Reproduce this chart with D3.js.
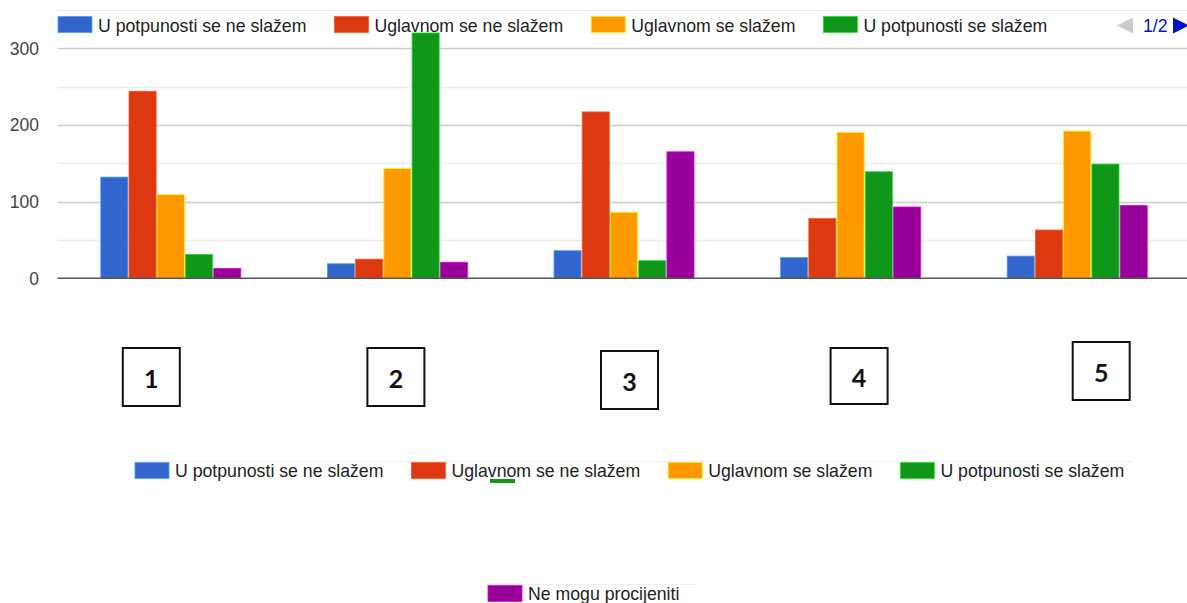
<!DOCTYPE html>
<html>
<head>
<meta charset="utf-8">
<script src="https://cdn.jsdelivr.net/npm/d3@7"></script>
<style>
  html, body { margin: 0; padding: 0; background: #fff; }
  svg { display: block; font-family: "Liberation Sans", Arial, sans-serif; }
</style>
</head>
<body>
<svg id="chart" width="1187" height="603"></svg>
<script>
// Survey answers per statement (statement numbers 1–5)
const categories = ["1", "2", "3", "4", "5"];
const seriesNames = [
  "U potpunosti se ne slažem",
  "Uglavnom se ne slažem",
  "Uglavnom se slažem",
  "U potpunosti se slažem",
  "Ne mogu procijeniti"
];
const colors = ["#3366cc", "#dc3912", "#ff9900", "#109618", "#990099"];

const potpunoNe = [132, 19, 36, 27, 29];
const uglavnomNe = [244, 25, 217, 78, 63];
const uglavnomDa = [109, 143, 86, 190, 192];
const potpunoDa = [31, 320, 23, 139, 149];
const neMogu = [13, 21, 165, 93, 95];
const seriesValues = [potpunoNe, uglavnomNe, uglavnomDa, potpunoDa, neMogu];

const majorTicks = [0, 100, 200, 300];
const minorTicks = [50, 150, 250];

const svg = d3.select("#chart");
const W = 1187;
const FONT = 17.7;

// Scales
const plotLeft = 57.5, plotRight = 1190.5;
const y = d3.scaleLinear().domain([0, 300]).range([278.3, 48.3]);
const x0 = d3.scaleBand().domain(categories).range([plotLeft, plotRight])
  .paddingInner(0.382).paddingOuter(0.191);
const x1 = d3.scaleBand().domain(d3.range(seriesNames.length))
  .range([0, x0.bandwidth()]).paddingInner(0.04);

// Top faint frame line above the legend
svg.append("line").attr("x1", plotLeft).attr("x2", W).attr("y1", 10.5).attr("y2", 10.5)
  .attr("stroke", "#ececec").attr("stroke-width", 1);

// Gridlines
svg.append("g").selectAll("line").data(minorTicks).join("line")
  .attr("x1", plotLeft).attr("x2", W)
  .attr("y1", d => Math.round(y(d)) + 0.5).attr("y2", d => Math.round(y(d)) + 0.5)
  .attr("stroke", "#ececec").attr("stroke-width", 1.5);
svg.append("g").selectAll("line").data(majorTicks.filter(d => d > 0)).join("line")
  .attr("x1", plotLeft).attr("x2", W)
  .attr("y1", d => Math.round(y(d)) + 0.5).attr("y2", d => Math.round(y(d)) + 0.5)
  .attr("stroke", "#cccccc").attr("stroke-width", 1.5);

// Y axis labels
const yAxis = d3.axisLeft(y).tickValues(majorTicks).tickSize(0).tickPadding(0);
const ya = svg.append("g").attr("transform", "translate(39,0)").call(yAxis);
ya.select(".domain").remove();
ya.selectAll("text").attr("fill", "#444").attr("font-size", 17.5)
  .attr("font-family", "Liberation Sans, Arial, sans-serif").attr("dy", "0.34em");

// Bars
const groups = svg.append("g").selectAll("g").data(categories).join("g")
  .attr("transform", d => `translate(${x0(d)},0)`);
groups.selectAll("rect")
  .data((c, i) => seriesValues.map((vals, s) => ({ s, v: vals[i] })))
  .join("rect")
  .attr("x", d => x1(d.s))
  .attr("width", x1.bandwidth())
  .attr("y", d => y(d.v))
  .attr("height", d => y(0) - y(d.v))
  .attr("fill", d => colors[d.s])
  .attr("stroke", d => d3.color(colors[d.s]).brighter(1.2))
  .attr("stroke-width", 0.8);

// Baseline
svg.append("line").attr("x1", plotLeft).attr("x2", W)
  .attr("y1", y(0)).attr("y2", y(0))
  .attr("stroke", "#555").attr("stroke-width", 1.6);

// Legend helper: swatch + label laid out left to right
function legendRow(items, startX, swatchTop, textBase) {
  let cx = startX;
  const g = svg.append("g");
  items.forEach(i => {
    g.append("rect").attr("x", cx).attr("y", swatchTop).attr("width", 34).attr("height", 16)
      .attr("fill", colors[i]).attr("stroke", d3.color(colors[i]).brighter(1.2)).attr("stroke-width", 0.8);
    const t = g.append("text").attr("x", cx + 40).attr("y", textBase)
      .attr("font-size", FONT).attr("fill", "#222").text(seriesNames[i]);
    cx = cx + 40 + t.node().getComputedTextLength() + 28;
  });
  return g;
}

// Top legend (page 1 of 2)
legendRow([0, 1, 2, 3], 58, 16.5, 31.5);
svg.append("path").attr("d", "M1117,25.5 L1133,17.5 L1133,33.5 Z").attr("fill", "#cccccc");
svg.append("text").attr("x", 1143).attr("y", 31.5).attr("font-size", FONT)
  .attr("fill", "#0011cc").text("1/2");
svg.append("path").attr("d", "M1173,17.5 L1189,25.5 L1173,33.5 Z").attr("fill", "#0011cc");

// Statement number boxes under each group (slightly offset from group centres)
const boxShift = [-19.5, -1.5, 5.5, 8.5, 24];
const boxTops = [348, 348, 351, 348, 342];
const boxHeights = [58, 58, 58, 56, 58];
const boxCx = (d, i) => x0(d) + x0.bandwidth() / 2 + boxShift[i];
const boxes = svg.append("g").selectAll("g").data(categories).join("g");
boxes.append("rect")
  .attr("x", (d, i) => boxCx(d, i) - 28.5)
  .attr("y", (d, i) => boxTops[i])
  .attr("width", 57).attr("height", (d, i) => boxHeights[i])
  .attr("fill", "#fff").attr("stroke", "#111").attr("stroke-width", 2);
boxes.append("text")
  .attr("x", (d, i) => boxCx(d, i))
  .attr("y", (d, i) => boxTops[i] + boxHeights[i] / 2 + 11)
  .attr("text-anchor", "middle")
  .attr("font-family", "Lato, 'Open Sans', sans-serif").attr("font-weight", 700)
  .attr("font-size", 25).attr("fill", "#111").text(d => d);

// Bottom legend, first row
svg.append("line").attr("x1", 135).attr("x2", 1133).attr("y1", 461.5).attr("y2", 461.5)
  .attr("stroke", "#eeeeee").attr("stroke-width", 1);
legendRow([0, 1, 2, 3], 135, 462.5, 477);
svg.append("rect").attr("x", 490).attr("y", 479).attr("width", 25).attr("height", 4)
  .attr("fill", colors[3]);

// Bottom legend, second row
svg.append("line").attr("x1", 487).attr("x2", 696).attr("y1", 584.5).attr("y2", 584.5)
  .attr("stroke", "#eeeeee").attr("stroke-width", 1);
legendRow([4], 488, 585.5, 600);
</script>
</body>
</html>
